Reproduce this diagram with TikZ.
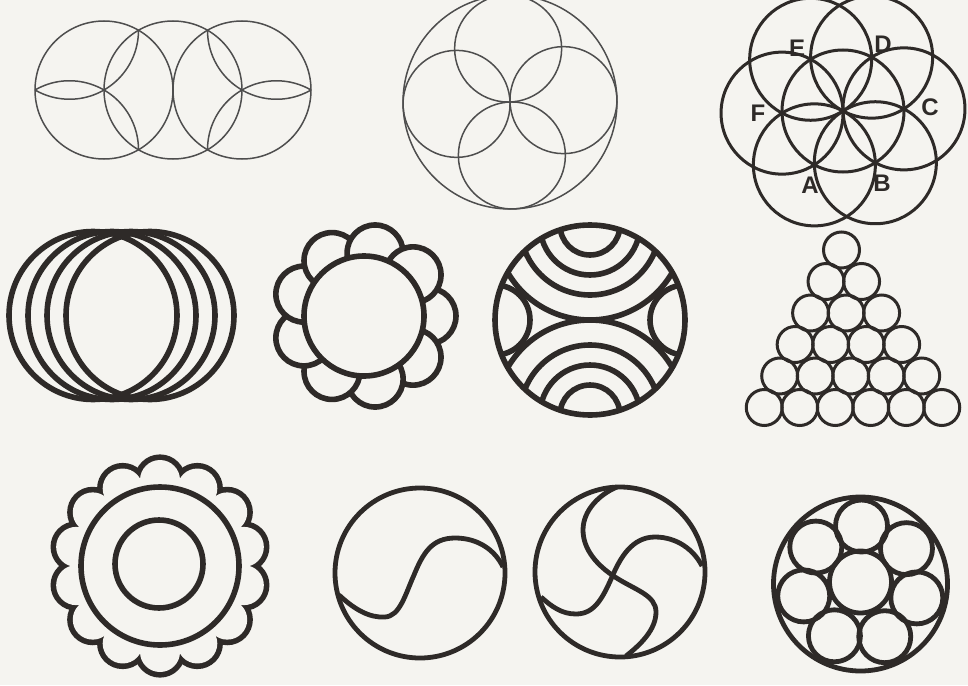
\documentclass[tikz,border=0pt]{standalone}
\usepackage{fontspec}
\setsansfont{Liberation Sans}
\usepackage{tikz}
\definecolor{ink}{HTML}{2E2A28}
\definecolor{pencil}{HTML}{4E4E4E}
\definecolor{paper}{HTML}{F5F4F0}

\begin{document}
\begin{tikzpicture}[
 x=1pt,y=-1pt,
 hairline/.style={draw=pencil,line width=1.5pt},
 midline/.style={draw=ink,line width=3pt},
 ringline/.style={draw=ink,line width=4.8pt},
 boldline/.style={draw=ink,line width=5.6pt},
 lbl/.style={font=\fontsize{24}{24}\selectfont\sffamily\bfseries,text=ink,inner sep=0pt}
]
\fill[paper] (0,0) rectangle (968,685);
\useasboundingbox (0,0) rectangle (968,685);

\foreach \cx in {104,173,242}
  \draw[hairline] (\cx,90) circle[radius=69];
\draw[hairline] (69.5,30.24) ++(0:69) arc[start angle=0,end angle=120,radius=69];
\draw[hairline] (69.5,149.76) ++(240:69) arc[start angle=240,end angle=360,radius=69];
\draw[hairline] (276.5,30.24) ++(60:69) arc[start angle=60,end angle=180,radius=69];
\draw[hairline] (276.5,149.76) ++(180:69) arc[start angle=180,end angle=300,radius=69];

\draw[hairline] (510,102) circle[radius=107];
\foreach \a in {-2,88,178,268}
  \draw[hairline] (510,102) ++(\a:53.5) circle[radius=53.5];

\draw[midline] (843,111) circle[radius=61];
\foreach \a in {-2,58,...,298}
  \draw[midline] (843,111) ++(\a:61) circle[radius=61];
\node[lbl] (lblA) at (810,185) {A};
\node[lbl] (lblB) at (882,183) {B};
\node[lbl] (lblC) at (930,107) {C};
\node[lbl] (lblD) at (883,44) {D};
\node[lbl] (lblE) at (797,48) {E};
\node[lbl] (lblF) at (758,113) {F};

\foreach \cx in {93,112,131,150}
  \draw[boldline] (\cx,315.5) circle[radius=84];

\foreach \a in {0,40,...,320}
  \draw[boldline,fill=paper] (364,316) ++(\a:64) circle[radius=28];
\draw[boldline,fill=paper] (364,316) circle[radius=60];

\begin{scope}
  \clip (590,320) circle[radius=95];
  \foreach \r in {30,50,70,95} {
    \draw[boldline] (590,225) circle[radius=\r];
    \draw[boldline] (590,415) circle[radius=\r];
  }
  \draw[boldline] (495,320) circle[radius=35];
  \draw[boldline] (685,320) circle[radius=35];
\end{scope}
\draw[boldline] (590,320) circle[radius=95];

\foreach \row in {1,...,6}
  \foreach \k in {1,...,\row}
    \draw[midline] ({841.5+2.3*(\row-1)+35.5*(\k-(\row+1)/2)},{250+31.5*(\row-1)}) circle[radius=18];

\foreach \k in {0,...,13}
  \draw[draw=ink,line width=11.2pt] (160,566) ++({-90+\k*360/14}:86) circle[radius=20];
\foreach \k in {0,...,13}
  \fill[paper] (160,566) ++({-90+\k*360/14}:86) circle[radius=20];
\draw[boldline,fill=paper] (160,566) circle[radius=79];
\draw[boldline] (159,564) circle[radius=44];

\draw[ringline] (420,573) circle[radius=85];
\draw[ringline] (339,595) .. controls (355,610) and (370,618) .. (385,617)
  .. controls (400,616) and (405,595) .. (414,575)
  .. controls (423,553) and (432,538) .. (455,538)
  .. controls (478,538) and (495,550) .. (503,567);

\draw[ringline] (620,572) circle[radius=85];
\draw[ringline] (541,597) .. controls (552,607) and (562,614) .. (576,614)
  .. controls (595,614) and (603,597) .. (612,577)
  .. controls (620,558) and (632,537) .. (655,537)
  .. controls (677,537) and (694,550) .. (702,566);
\draw[ringline] (617,487) .. controls (600,494) and (583,510) .. (583,530)
  .. controls (583,550) and (598,566) .. (615,577)
  .. controls (635,590) and (656,595) .. (656,612)
  .. controls (656,630) and (640,645) .. (626,656);

\draw[ringline] (860.5,584) circle[radius=87];
\draw[ringline] (860.5,582) circle[radius=31];
\foreach \k in {0,...,6}
  \draw[ringline] (860.5,584) ++({-89+\k*360/7}:58) circle[radius=26];
\end{tikzpicture}
\end{document}
